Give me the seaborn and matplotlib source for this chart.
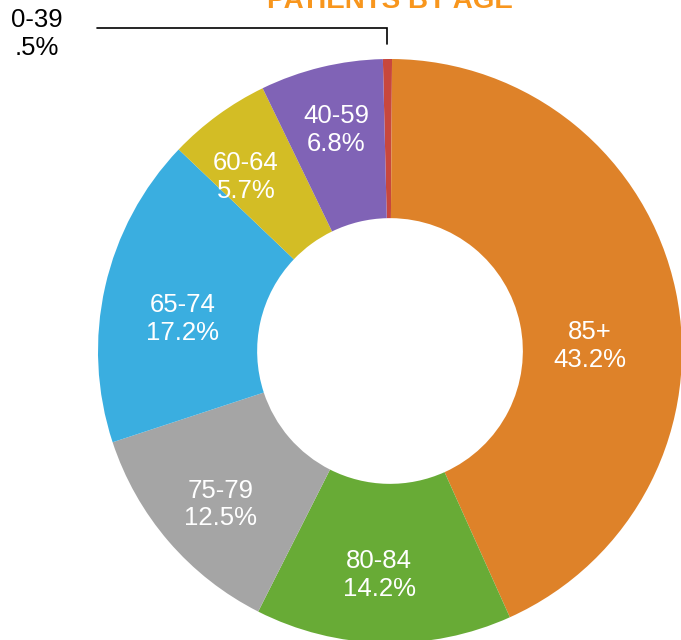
# ============================================================
# plot.py
# Donut chart - patients by age group
# ============================================================

import numpy as np
import seaborn as sns
import matplotlib.pyplot as plt

# ------------------------------------------------------------
# Data
# ------------------------------------------------------------
age_groups = ["0-39", "85+", "80-84", "75-79", "65-74", "60-64", "40-59"]
shares = [0.5, 43.2, 14.2, 12.5, 17.2, 5.7, 6.8]
share_labels = [".5%", "43.2%", "14.2%", "12.5%", "17.2%", "5.7%", "6.8%"]
slice_colors = ["#C8473D", "#DE8229", "#68AB36", "#A5A5A5",
                "#3AAEE0", "#D3BD25", "#8063B6"]

TITLE = "PATIENTS BY AGE"

# label placement inside the ring: radius and a small turn (deg) off mid angle
label_r = [None, 0.685, 0.768, 0.783, 0.718, 0.774, 0.778]
label_turn = [0, -10.5, -1.5, 1.5, 4.0, 3.5, 0.0]

# ------------------------------------------------------------
# Style
# ------------------------------------------------------------
sns.set_theme(style="white")
plt.rcParams["font.family"] = ["Liberation Sans", "DejaVu Sans"]

fig = plt.figure(figsize=(6.81, 6.40), dpi=100)
ax = fig.add_axes([0, 0, 1, 1])

palette = sns.color_palette(slice_colors)
hole = 0.455

wedges, _ = ax.pie(
    shares,
    colors=palette,
    startangle=91.4,
    counterclock=False,
    radius=1.0,
    wedgeprops=dict(width=1 - hole, linewidth=0),
)

# ------------------------------------------------------------
# Labels inside the ring (the small 0-39 slice gets a callout)
# ------------------------------------------------------------
for w, grp, pct, r, turn in zip(wedges, age_groups, share_labels,
                                label_r, label_turn):
    mid = np.deg2rad((w.theta1 + w.theta2) / 2 + turn)
    if r is None:
        # leader line from the top of the slice to the label on the left
        lx = np.cos(mid)
        ax.plot([lx, lx, -1.005], [1.05, 1.106, 1.106],
                color="black", linewidth=1.2, solid_joinstyle="miter")
        ax.text(-1.209, 1.085, f"{grp}\n{pct}", ha="center", va="center",
                fontsize=18.5, color="black", linespacing=1.2)
        continue
    ax.text(r * np.cos(mid), r * np.sin(mid), f"{grp}\n{pct}",
            ha="center", va="center", fontsize=18.5, color="white",
            linespacing=1.2)

ax.text(0.0, 1.175, TITLE, ha="center", va="baseline",
        fontsize=20, fontweight="bold", color="#F8961D")

# centre of the ring at about (390, 351) px, radius 292 px
ax.set_xlim(-390 / 292, (681 - 390) / 292)
ax.set_ylim(-(640 - 351) / 292, 351 / 292)
ax.set_aspect("auto")
ax.axis("off")

fig.savefig("out.png", dpi=100)
